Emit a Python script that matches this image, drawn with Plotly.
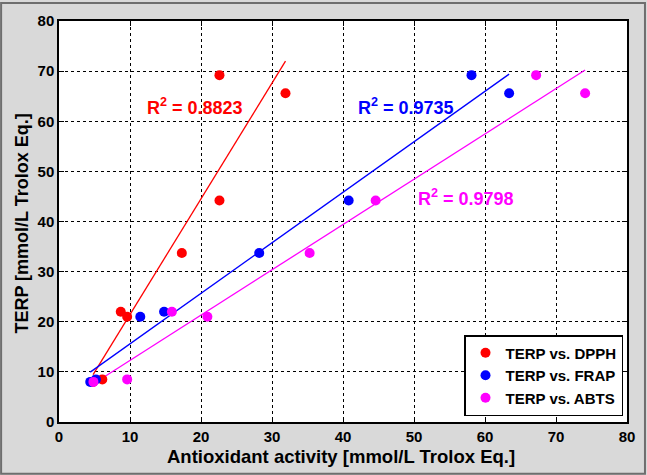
import numpy as np
import plotly.graph_objects as go

# ---- data ----
terp = [8.0, 8.5, 21.0, 22.0, 33.7, 44.2, 65.6, 69.2]
dpph = [4.8, 6.1, 9.6, 8.7, 17.3, 22.6, 31.9, 22.6]
frap = [4.4, 5.2, 11.45, 14.8, 28.2, 40.8, 63.4, 58.1]
abts = [4.85, 9.6, 20.9, 15.9, 35.3, 44.6, 74.1, 67.2]

series_names = ["TERP vs. DPPH", "TERP vs. FRAP", "TERP vs. ABTS"]
series_x = [dpph, frap, abts]
series_colors = ["#ff0000", "#0000ff", "#ff00ff"]
r2_labels = ["0.8823", "0.9735", "0.9798"]
r2_pos = [(19.2, 62.9), (48.9, 62.9), (57.3, 44.8)]

x_ticks = [0, 10, 20, 30, 40, 50, 60, 70, 80]
y_ticks = [0, 10, 20, 30, 40, 50, 60, 70, 80]

W, H = 647, 475
ML, MR, MT, MB = 59, 19, 19, 53
PW, PH = W - ML - MR, H - MT - MB

FONT = "Liberation Sans, Arial, sans-serif"

fig = go.Figure()

# regression lines (least squares on each series)
for xs, col in zip(series_x, series_colors):
    xa = np.array(xs, dtype=float)
    ya = np.array(terp, dtype=float)
    m, b = np.polyfit(xa, ya, 1)
    lx = np.array([xa.min(), xa.max()])
    fig.add_trace(go.Scatter(x=lx, y=m * lx + b, mode="lines",
                             line=dict(color=col, width=1.3),
                             showlegend=False, hoverinfo="skip"))

# data points
for xs, name, col in zip(series_x, series_names, series_colors):
    fig.add_trace(go.Scatter(x=xs, y=terp, mode="markers", name=name,
                             marker=dict(color=col, size=10, line=dict(width=0))))

annotations = []
for (ax, ay), lab, col in zip(r2_pos, r2_labels, series_colors):
    annotations.append(dict(x=ax, y=ay, xref="x", yref="y", showarrow=False,
                            text="<b>R<sup>2</sup> = " + lab + "</b>",
                            font=dict(family=FONT, size=18, color=col),
                            xanchor="center", yanchor="middle"))

# axis titles
annotations.append(dict(x=(341.5 - ML) / PW, y=(422 - 457) / PH, xref="paper", yref="paper",
                        showarrow=False, text="<b>Antioxidant activity [mmol/L Trolox Eq.]</b>",
                        font=dict(family=FONT, size=18.5, color="black"),
                        xanchor="center", yanchor="middle"))
annotations.append(dict(x=(21 - ML) / PW, y=0.495, xref="paper", yref="paper",
                        showarrow=False, text="<b>TERP [mmol/L Trolox Eq.]</b>", textangle=-90,
                        font=dict(family=FONT, size=18, color="black"),
                        xanchor="center", yanchor="middle"))

axis_common = dict(range=[0, 80], showgrid=True, gridcolor="black", griddash="dot",
                   gridwidth=1, zeroline=False, showline=True, linecolor="black",
                   linewidth=1.5, mirror="allticks", ticks="inside", ticklen=5,
                   tickcolor="black", tickwidth=1,
                   tickfont=dict(family=FONT, size=15, color="black", weight="bold"))

fig.update_layout(
    width=W, height=H,
    margin=dict(l=ML, r=MR, t=MT, b=MB),
    paper_bgcolor="#d9d9d9", plot_bgcolor="white",
    xaxis=dict(tickvals=x_ticks, ticktext=[str(v) for v in x_ticks], **axis_common),
    yaxis=dict(tickvals=y_ticks, ticktext=[str(v) for v in y_ticks], **axis_common),
    legend=dict(x=(624 - ML) / PW, y=(422 - 416) / PH, xanchor="right", yanchor="bottom",
                bgcolor="white", bordercolor="black", borderwidth=1.5,
                font=dict(family=FONT, size=15, color="black", weight="bold"),
                tracegroupgap=0),
    annotations=annotations,
    shapes=[dict(type="rect", xref="paper", yref="paper",
                 x0=-(ML - 1) / PW, x1=1 + (MR - 1) / PW,
                 y0=-(MB - 1) / PH, y1=1 + (MT - 1) / PH,
                 line=dict(color="#6e6e6e", width=2), layer="below")],
    showlegend=True,
)

fig.write_html("out.html")
